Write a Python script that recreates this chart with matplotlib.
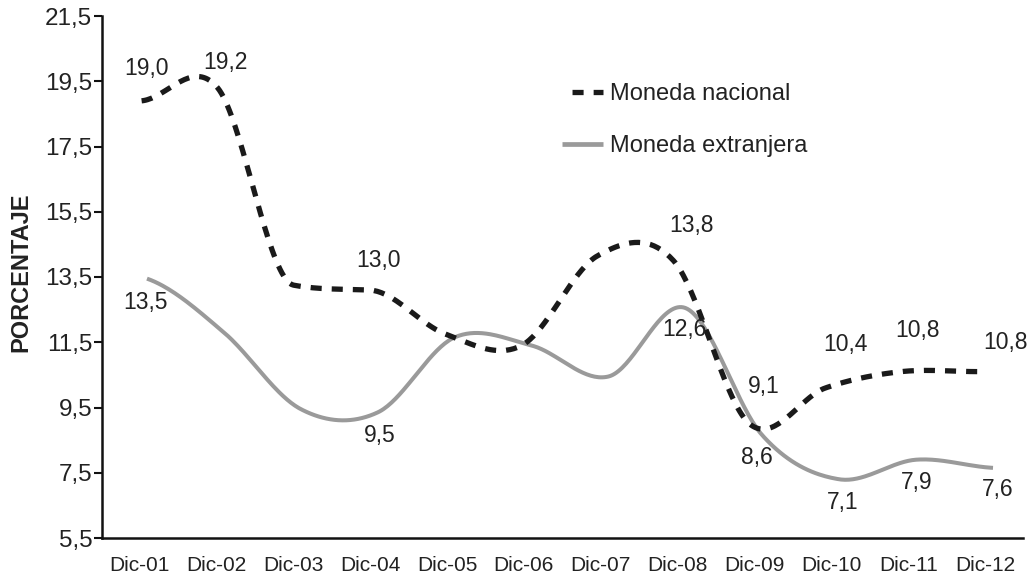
import numpy as np
import matplotlib
matplotlib.use('Agg')
from matplotlib import pyplot as plt
from matplotlib.lines import Line2D

plt.rcParams['font.family'] = ['Liberation Sans', 'DejaVu Sans']

meses = ['Dic-01', 'Dic-02', 'Dic-03', 'Dic-04', 'Dic-05', 'Dic-06',
         'Dic-07', 'Dic-08', 'Dic-09', 'Dic-10', 'Dic-11', 'Dic-12']
# level of each line as drawn in the chart
nacional = [18.9, 19.3, 13.25, 13.1, 11.75, 11.4, 14.15, 14.0, 9.0, 10.1, 10.6, 10.6]
extranjera = [13.45, 11.8, 9.45, 9.35, 11.65, 11.4, 10.45, 12.55, 8.65, 7.3, 7.9, 7.65]
# published values written on the chart
nac_idx = [0, 1, 3, 7, 8, 9, 10, 11]
nac_val = [19.0, 19.2, 13.0, 13.8, 9.1, 10.4, 10.8, 10.8]
ext_idx = [0, 3, 7, 8, 9, 10, 11]
ext_val = [13.5, 9.5, 12.6, 8.6, 7.1, 7.9, 7.6]
yticks = [5.5, 7.5, 9.5, 11.5, 13.5, 15.5, 17.5, 19.5, 21.5]

TXT = '#222222'
DARK = '#1a1a1a'
GRIS = '#9a9a9a'


def smooth(x, y, n=40):
    '''catmull-rom curve; tangents only limited on monotone stretches
    so a flat run after a steep drop stays flat'''
    x = np.asarray(x, float)
    y = np.asarray(y, float)
    h = np.diff(x)
    d = np.diff(y) / h
    m = np.empty_like(y)
    m[1:-1] = (y[2:] - y[:-2]) / (x[2:] - x[:-2])
    m[0] = d[0] / 2
    m[-1] = d[-1] / 2
    for k in range(len(d)):
        if d[k] == 0:
            continue
        a = m[k] / d[k]
        b = m[k + 1] / d[k]
        if a >= 0 and b >= 0 and a * a + b * b > 9:
            t = 3 / np.hypot(a, b)
            m[k] = t * a * d[k]
            m[k + 1] = t * b * d[k]
    xs, ys = [], []
    t = np.linspace(0, 1, n)
    h00 = 2 * t**3 - 3 * t**2 + 1
    h10 = t**3 - 2 * t**2 + t
    h01 = -2 * t**3 + 3 * t**2
    h11 = t**3 - t**2
    for k in range(len(d)):
        xs.append(x[k] + t * h[k])
        ys.append(h00 * y[k] + h10 * h[k] * m[k] + h01 * y[k + 1] + h11 * h[k] * m[k + 1])
    return np.concatenate(xs), np.concatenate(ys)


def fmt(v):
    return ('%.1f' % v).replace('.', ',')


fig = plt.figure(figsize=(10.34, 5.81), dpi=100)
ax = fig.add_axes([102 / 1034, 1 - 538 / 581, 921 / 1034, 522 / 581])

x = np.arange(len(meses))
x_nac = x * 0.988 - 0.07   # dashed series sits a little left of the grey one

xs, ys = smooth(x_nac, nacional)
ax.plot(xs, ys, color=DARK, lw=3.8, dashes=(2.1, 1.9),
        dash_capstyle='butt', zorder=3)
xs, ys = smooth(x, extranjera)
ax.plot(xs, ys, color=GRIS, lw=2.9, solid_capstyle='butt', zorder=2)

# label offsets in pixels from each point
nac_off = [(5, 32), (8, 25), (9, 30), (18, 35), (14, 37), (20, 43), (16, 41), (28, 29)]
ext_off = [(-1, -24), (2, -23), (-1, -22), (-5, -22), (4, -23), (1, -23), (5, -22)]
for i, v, o in zip(nac_idx, nac_val, nac_off):
    ax.annotate(fmt(v), (x_nac[i], nacional[i]), xytext=o, textcoords='offset pixels',
                ha='center', va='center', fontsize=16.5, color=TXT)
for i, v, o in zip(ext_idx, ext_val, ext_off):
    ax.annotate(fmt(v), (x[i], extranjera[i]), xytext=o, textcoords='offset pixels',
                ha='center', va='center', fontsize=16.5, color=TXT)

ax.set_xlim(-0.585, 11.39)
ax.set_ylim(5.5, 21.5)
ax.set_yticks(yticks)
ax.set_yticklabels([fmt(v) for v in yticks], fontsize=17.5, color=TXT)
ax.set_xticks(x - 0.1)
ax.set_xticklabels(meses, fontsize=15, color=TXT,
                   family=['Liberation Sans Narrow', 'Liberation Sans'])
ax.tick_params(axis='x', length=0, pad=13)
ax.tick_params(axis='y', length=6, width=1.5, pad=1, color='#111111')
for s in ['top', 'right']:
    ax.spines[s].set_visible(False)
for s in ['left', 'bottom']:
    ax.spines[s].set_linewidth(1.8)
    ax.spines[s].set_color('#111111')

ax.set_ylabel('PORCENTAJE', fontsize=17, fontweight='bold', color=TXT)
ax.yaxis.set_label_coords(-0.076, 0.51)

handles = [Line2D([], [], color=DARK, lw=3.8, linestyle=(2.1, (2.1, 1.9)),
                  dash_capstyle='butt'),
           Line2D([], [], color=GRIS, lw=3.4, solid_capstyle='butt')]
ax.legend(handles, ['Moneda nacional', 'Moneda extranjera'],
          loc='upper left', bbox_to_anchor=(0.4995, 0.872), frameon=False,
          fontsize=17, handlelength=1.75, handletextpad=0.3, labelspacing=1.28,
          borderpad=0, borderaxespad=0, labelcolor=TXT)

fig.savefig('out.png', dpi=100)
